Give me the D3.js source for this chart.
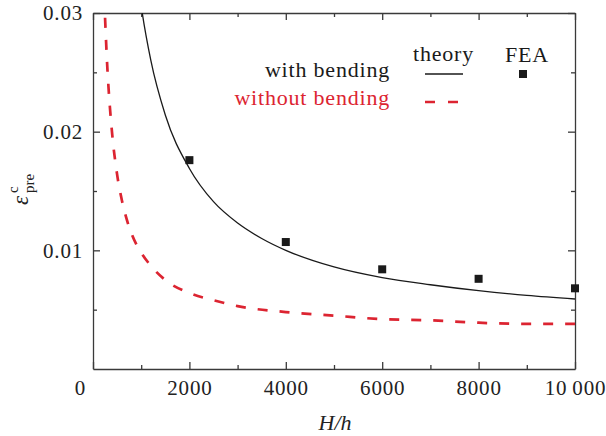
<!DOCTYPE html>
<html>
<head>
<meta charset="utf-8">
<script src="https://cdn.jsdelivr.net/npm/d3@7"></script>
<style>
  html, body { margin: 0; padding: 0; background: #fff; }
  svg { display: block; }
  text { font-family: "Liberation Serif", "DejaVu Serif", serif; }
</style>
</head>
<body>
<svg id="chart" width="606" height="436"></svg>
<script>
// ---- data ----
const seriesNames = ["with bending", "without bending"];
const withBendX = [950, 1000, 1200, 1500, 2000, 2500, 3000, 3500, 4000, 5000, 6000, 7000, 8000, 9000, 10000];
const withBendY = [0.0321, 0.0306, 0.0260, 0.0214, 0.0169, 0.0141, 0.0123, 0.0110, 0.0100, 0.0086, 0.0077, 0.0071, 0.0066, 0.0062, 0.0059];
const withoutBendX = [250, 300, 350, 400, 500, 600, 700, 800, 1000, 1200, 1500, 2000, 2500, 3000, 4000, 5000, 6000, 7000, 8000, 9000, 10000];
const withoutBendY = [0.0296, 0.0252, 0.0221, 0.0197, 0.0164, 0.0142, 0.0126, 0.0114, 0.0098, 0.0087, 0.0075, 0.0064, 0.0058, 0.0053, 0.0048, 0.0045, 0.0042, 0.0041, 0.0039, 0.0038, 0.0038];
const feaX = [2000, 4000, 6000, 8000, 10000];
const feaY = [0.0176, 0.0107, 0.0084, 0.0076, 0.0068];
const xMajorTicks = [0, 2000, 4000, 6000, 8000, 10000];
const xMajorLabels = ["0", "2000", "4000", "6000", "8000", "10\u2009000"];
const xMinorTicks = [1000, 3000, 5000, 7000, 9000];
const yMajorTicks = [0.01, 0.02, 0.03];
const yMajorLabels = ["0.01", "0.02", "0.03"];
const yMinorTicks = [0.005, 0.015, 0.025];

// ---- layout ----
const L = 93, R = 575, T = 13, B = 369;
const red = "#dc2431";
const axisColor = "#3a3a3a";

const svg = d3.select("#chart");
const x = d3.scaleLinear().domain([0, 10000]).range([L, R]);
const y = d3.scaleLinear().domain([0, 0.03]).range([B, T]);

svg.append("defs").append("clipPath").attr("id", "plotclip")
  .append("rect").attr("x", L).attr("y", T).attr("width", R - L).attr("height", B - T);

function styleAxis(g) {
  g.selectAll("path, line").attr("stroke", axisColor).attr("stroke-width", 1.3);
  g.selectAll("text").attr("fill", "#222").attr("font-size", 21)
    .attr("font-family", "'Liberation Serif', 'DejaVu Serif', serif")
    .attr("letter-spacing", "0.8px");
}

// bottom axis
const gB = svg.append("g").attr("transform", `translate(0,${B})`)
  .call(d3.axisBottom(x).tickValues(xMajorTicks)
    .tickFormat((d, i) => xMajorLabels[i]).tickSizeInner(-7).tickSizeOuter(0).tickPadding(11));
styleAxis(gB);
gB.selectAll(".tick text").filter(d => d === 0).attr("dx", -13);
const gBm = svg.append("g").attr("transform", `translate(0,${B})`)
  .call(d3.axisBottom(x).tickValues(xMinorTicks).tickFormat("").tickSizeInner(-4).tickSizeOuter(0));
styleAxis(gBm); gBm.select(".domain").remove();

// top axis
const gT = svg.append("g").attr("transform", `translate(0,${T})`)
  .call(d3.axisTop(x).tickValues(xMajorTicks).tickFormat("").tickSizeInner(-7).tickSizeOuter(0));
styleAxis(gT);
const gTm = svg.append("g").attr("transform", `translate(0,${T})`)
  .call(d3.axisTop(x).tickValues(xMinorTicks).tickFormat("").tickSizeInner(-4).tickSizeOuter(0));
styleAxis(gTm); gTm.select(".domain").remove();

// left axis
const gL = svg.append("g").attr("transform", `translate(${L},0)`)
  .call(d3.axisLeft(y).tickValues(yMajorTicks)
    .tickFormat((d, i) => yMajorLabels[i]).tickSizeInner(-7).tickSizeOuter(0).tickPadding(10));
styleAxis(gL);
const gLm = svg.append("g").attr("transform", `translate(${L},0)`)
  .call(d3.axisLeft(y).tickValues(yMinorTicks).tickFormat("").tickSizeInner(-4).tickSizeOuter(0));
styleAxis(gLm); gLm.select(".domain").remove();

// right axis
const gR = svg.append("g").attr("transform", `translate(${R},0)`)
  .call(d3.axisRight(y).tickValues(yMajorTicks).tickFormat("").tickSizeInner(-7).tickSizeOuter(0));
styleAxis(gR);
const gRm = svg.append("g").attr("transform", `translate(${R},0)`)
  .call(d3.axisRight(y).tickValues(yMinorTicks).tickFormat("").tickSizeInner(-4).tickSizeOuter(0));
styleAxis(gRm); gRm.select(".domain").remove();

// ---- curves ----
const line = d3.line().x(d => x(d[0])).y(d => y(d[1])).curve(d3.curveMonotoneX);
const plot = svg.append("g").attr("clip-path", "url(#plotclip)");

plot.append("path")
  .datum(withBendX.map((v, i) => [v, withBendY[i]]))
  .attr("d", line).attr("fill", "none").attr("stroke", "#1a1a1a").attr("stroke-width", 1.3);

plot.append("path")
  .datum(withoutBendX.map((v, i) => [v, withoutBendY[i]]))
  .attr("d", line).attr("fill", "none").attr("stroke", red).attr("stroke-width", 2.7)
  .attr("stroke-dasharray", "10,12");

// FEA squares
const sq = 8;
svg.append("g").selectAll("rect").data(feaX.map((v, i) => [v, feaY[i]])).join("rect")
  .attr("x", d => x(d[0]) - sq / 2).attr("y", d => y(d[1]) - sq / 2)
  .attr("width", sq).attr("height", sq).attr("fill", "#1a1a1a");

// ---- legend ----
const lg = svg.append("g").attr("font-size", 22).attr("letter-spacing", "0.8px");
lg.append("text").attr("x", 443.5).attr("y", 61).attr("text-anchor", "middle").attr("fill", "#1a1a1a").text("theory");
lg.append("text").attr("x", 527).attr("y", 62).attr("text-anchor", "middle").attr("fill", "#1a1a1a").text("FEA");
lg.append("text").attr("x", 390).attr("y", 77).attr("text-anchor", "end").attr("fill", "#1a1a1a").text(seriesNames[0]);
lg.append("text").attr("x", 390).attr("y", 105).attr("text-anchor", "end").attr("fill", red).text(seriesNames[1]);
svg.append("line").attr("x1", 425).attr("x2", 463).attr("y1", 74).attr("y2", 74)
  .attr("stroke", "#1a1a1a").attr("stroke-width", 1.3);
svg.append("line").attr("x1", 425).attr("x2", 459).attr("y1", 102).attr("y2", 102)
  .attr("stroke", red).attr("stroke-width", 2.7).attr("stroke-dasharray", "10,13");
svg.append("rect").attr("x", 523 - sq / 2).attr("y", 74 - sq / 2).attr("width", sq).attr("height", sq).attr("fill", "#1a1a1a");

// ---- axis titles ----
svg.append("text").attr("x", 335).attr("y", 430).attr("text-anchor", "middle")
  .attr("font-size", 22).attr("font-style", "italic").attr("fill", "#222").text("H/h");

const yl = svg.append("g").attr("transform", "translate(28,205) rotate(-90)").attr("fill", "#222");
yl.append("text").attr("x", 0).attr("y", 0).attr("font-size", 23).attr("font-style", "italic").text("\u03B5");
yl.append("text").attr("x", 12).attr("y", -10).attr("font-size", 15).text("c");
yl.append("text").attr("x", 12).attr("y", 6).attr("font-size", 15).text("pre");
</script>
</body>
</html>
